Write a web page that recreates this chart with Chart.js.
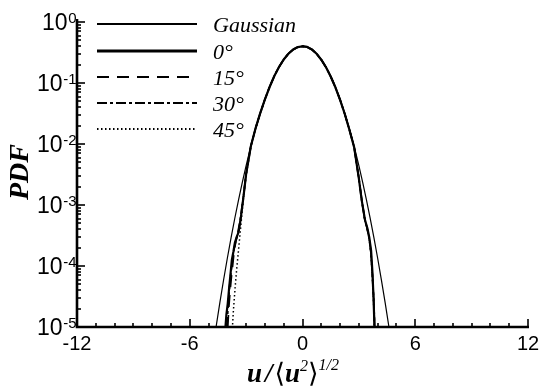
<!DOCTYPE html>
<html>
<head>
<meta charset="utf-8">
<script src="https://cdn.jsdelivr.net/npm/chart.js@4.4.1/dist/chart.umd.min.js"></script>
<style>
  html, body { margin: 0; padding: 0; background: #fff; }
  canvas { display: block; }
</style>
</head>
<body>
<canvas id="pdfChart" width="542" height="391"></canvas>
<script>
// Gaussian reference curve
var gaussX = [-4.6, -4.4, -4.2, -4.0, -3.8, -3.6, -3.4, -3.2, -3.0, -2.8, -2.6, -2.4, -2.2, -2.0, -1.8, -1.6, -1.4, -1.2, -1.0, -0.8, -0.6, -0.4, -0.2, 0,
              0.2, 0.4, 0.6, 0.8, 1.0, 1.2, 1.4, 1.6, 1.8, 2.0, 2.2, 2.4, 2.6, 2.8, 3.0, 3.2, 3.4, 3.6, 3.8, 4.0, 4.2, 4.4, 4.6];
var gaussPdf = [1.0e-5, 2.48e-5, 5.89e-5, 1.34e-4, 2.92e-4, 6.12e-4, 1.23e-3, 2.38e-3, 4.43e-3, 7.92e-3, 1.36e-2, 2.24e-2, 3.55e-2, 5.40e-2, 7.90e-2, 0.111, 0.150, 0.194, 0.242, 0.290, 0.333, 0.368, 0.391, 0.399,
                0.391, 0.368, 0.333, 0.290, 0.242, 0.194, 0.150, 0.111, 7.90e-2, 5.40e-2, 3.55e-2, 2.24e-2, 1.36e-2, 7.92e-3, 4.43e-3, 2.38e-3, 1.23e-3, 6.12e-4, 2.92e-4, 1.34e-4, 5.89e-5, 2.48e-5, 1.0e-5];

// measured PDFs, one per angle
var x0 = [-4.1, -4.05, -3.98, -3.9, -3.82, -3.76, -3.68, -3.6, -3.5, -3.4, -3.3, -3.15, -3.0, -2.75, -2.5, -2.25,
          -2.0, -1.75, -1.5, -1.25, -1.0, -0.75, -0.5, -0.25, 0, 0.25, 0.5, 0.75, 1.0, 1.25, 1.5, 1.75, 2.0,
          2.25, 2.5, 2.75, 3.0, 3.15, 3.33, 3.45, 3.55, 3.65, 3.72, 3.78, 3.83];
var pdf0 = [1.0e-5, 1.6e-5, 2.4e-5, 4.5e-5, 8e-5, 1.26e-4, 1.7e-4, 2.4e-4, 3.0e-4, 3.6e-4, 5.6e-4, 1.3e-3, 3.2e-3, 9.2e-3, 1.8e-2, 3.2e-2,
            5.4e-2, 8.6e-2, 0.130, 0.183, 0.243, 0.302, 0.354, 0.388, 0.401, 0.390, 0.355, 0.302, 0.241, 0.181, 0.128, 0.085, 0.053,
            0.031, 0.017, 0.0088, 0.0027, 0.0012, 5.6e-4, 4.2e-4, 3.0e-4, 1.8e-4, 8e-5, 3e-5, 1e-5];

var x15 = [-3.97, -3.92, -3.85, -3.78, -3.7, -3.62, -3.52, -3.42, -3.3, -3.15, -3.0, -2.75, -2.5, -2.25,
           -2.0, -1.75, -1.5, -1.25, -1.0, -0.75, -0.5, -0.25, 0, 0.25, 0.5, 0.75, 1.0, 1.25, 1.5, 1.75, 2.0,
           2.25, 2.5, 2.75, 3.0, 3.15, 3.3, 3.45, 3.55, 3.65, 3.74, 3.8, 3.84];
var pdf15 = [1.0e-5, 2.0e-5, 3.8e-5, 6.5e-5, 1.1e-4, 1.9e-4, 2.7e-4, 3.5e-4, 5.8e-4, 1.35e-3, 3.3e-3, 9.3e-3, 1.8e-2, 3.2e-2,
             0.054, 0.087, 0.131, 0.184, 0.244, 0.303, 0.353, 0.387, 0.399, 0.389, 0.354, 0.301, 0.240, 0.180, 0.127, 0.085, 0.053,
             0.031, 0.017, 0.0089, 0.0028, 0.0013, 6.0e-4, 4.0e-4, 2.8e-4, 1.5e-4, 6e-5, 2.5e-5, 1e-5];

var x30 = [-4.02, -3.96, -3.88, -3.8, -3.72, -3.64, -3.55, -3.45, -3.32, -3.15, -3.0, -2.75, -2.5, -2.25,
           -2.0, -1.75, -1.5, -1.25, -1.0, -0.75, -0.5, -0.25, 0, 0.25, 0.5, 0.75, 1.0, 1.25, 1.5, 1.75, 2.0,
           2.25, 2.5, 2.75, 3.0, 3.15, 3.32, 3.44, 3.54, 3.64, 3.72, 3.79, 3.84];
var pdf30 = [1.0e-5, 2.2e-5, 4.6e-5, 8e-5, 1.3e-4, 1.9e-4, 2.6e-4, 3.4e-4, 5.5e-4, 1.3e-3, 3.2e-3, 9.1e-3, 1.8e-2, 3.2e-2,
             0.054, 0.086, 0.130, 0.183, 0.243, 0.302, 0.353, 0.388, 0.400, 0.389, 0.354, 0.301, 0.241, 0.181, 0.128, 0.085, 0.053,
             0.031, 0.017, 0.0088, 0.0027, 0.0012, 5.8e-4, 4.1e-4, 2.9e-4, 1.7e-4, 7e-5, 2.8e-5, 1e-5];

var x45 = [-3.72, -3.68, -3.62, -3.56, -3.5, -3.44, -3.38, -3.3, -3.2, -3.1, -3.0, -2.75, -2.5, -2.25,
           -2.0, -1.75, -1.5, -1.25, -1.0, -0.75, -0.5, -0.25, 0, 0.25, 0.5, 0.75, 1.0, 1.25, 1.5, 1.75, 2.0,
           2.25, 2.5, 2.75, 3.0, 3.15, 3.3, 3.44, 3.55, 3.64, 3.72, 3.78, 3.82];
var pdf45 = [1.1e-5, 1.8e-5, 3.2e-5, 5.5e-5, 9e-5, 1.4e-4, 2.2e-4, 4.0e-4, 8.5e-4, 1.7e-3, 3.1e-3, 9.0e-3, 1.8e-2, 3.1e-2,
             0.054, 0.086, 0.130, 0.183, 0.242, 0.301, 0.353, 0.387, 0.399, 0.389, 0.354, 0.301, 0.241, 0.181, 0.128, 0.085, 0.053,
             0.031, 0.017, 0.0088, 0.0027, 0.0012, 6.0e-4, 4.2e-4, 2.9e-4, 1.6e-4, 6.5e-5, 2.6e-5, 1e-5];

var seriesLabels = ["Gaussian", "0°", "15°", "30°", "45°"];
var xTicks = [-12, -6, 0, 6, 12];
var yDecades = [-5, -4, -3, -2, -1, 0];

function toPoints(xs, ys) {
    return xs.map(function (x, i) { return { x: x, y: ys[i] }; });
}

function lineSet(label, xs, ys, width, dash) {
    return {
        label: label,
        data: toPoints(xs, ys),
        borderColor: "#000",
        borderWidth: width,
        borderDash: dash,
        pointRadius: 0,
        tension: 0,
        fill: false,
        borderJoinStyle: "round"
    };
}

// legend line widths (a little heavier than the curves)
var legendWidths = [1.8, 2.8, 1.8, 2.2, 1.8];

// draws axes with inward ticks, tick labels with superscripts, titles and legend
var axesPlugin = {
    id: "axesPlugin",
    afterDraw: function (chart) {
        var ctx = chart.ctx;
        var area = chart.chartArea;
        var xs = chart.scales.x;
        var ys = chart.scales.y;
        ctx.save();
        ctx.strokeStyle = "#000";
        ctx.fillStyle = "#000";

        // x ticks: major every 6, minor every 1
        ctx.lineWidth = 1.6;
        for (var v = -12; v <= 12; v++) {
            var px = Math.round(xs.getPixelForValue(v));
            var len = (v % 6 === 0) ? 8 : 4;
            ctx.beginPath();
            ctx.moveTo(px, area.bottom);
            ctx.lineTo(px, area.bottom - len);
            ctx.stroke();
        }
        // y ticks: decades and 2..9 minors
        yDecades.forEach(function (d) {
            for (var m = 1; m <= 9; m++) {
                if (d === 0 && m > 1) break;
                var py = Math.round(ys.getPixelForValue(m * Math.pow(10, d)));
                var l = m === 1 ? 8 : 4;
                ctx.beginPath();
                ctx.moveTo(area.left, py);
                ctx.lineTo(area.left + l, py);
                ctx.stroke();
            }
        });

        // axis lines
        ctx.lineWidth = 2.6;
        ctx.beginPath();
        ctx.moveTo(area.left, area.top - 3);
        ctx.lineTo(area.left, area.bottom);
        ctx.lineTo(area.right + 1, area.bottom);
        ctx.stroke();

        // x tick labels
        ctx.font = "20px 'Liberation Sans', Arial, sans-serif";
        ctx.textAlign = "center";
        ctx.textBaseline = "alphabetic";
        xTicks.forEach(function (t) {
            ctx.fillText(String(t), xs.getPixelForValue(t), area.bottom + 23);
        });

        // y tick labels 10^n
        ctx.textAlign = "left";
        var baseFont = "23px 'Liberation Sans', Arial, sans-serif";
        var supFont = "15px 'Liberation Sans', Arial, sans-serif";
        yDecades.forEach(function (d) {
            var py = ys.getPixelForValue(Math.pow(10, d));
            var base = "10", sup = d === 0 ? "0" : "-" + (-d);
            ctx.font = baseFont;
            var wb = ctx.measureText(base).width;
            ctx.font = supFont;
            var ws = ctx.measureText(sup).width;
            var x0 = area.left - 1 - ws - wb;
            ctx.font = baseFont;
            ctx.fillText(base, x0, py + 8);
            ctx.font = supFont;
            ctx.fillText(sup, x0 + wb + 0.5, py + 1);
        });

        // y title
        ctx.save();
        ctx.translate(28, 172);
        ctx.rotate(-Math.PI / 2);
        ctx.font = "italic bold 28px 'Liberation Serif', 'Times New Roman', serif";
        ctx.textAlign = "center";
        ctx.fillText("PDF", 0, 0);
        ctx.restore();

        // x title: u/<u^2>^(1/2)
        var big = "italic bold 27px 'Liberation Serif', serif";
        var brk = "27px 'DejaVu Serif', 'Liberation Serif', serif";
        var small = "italic 16px 'Liberation Serif', serif";
        var parts = [
            { t: "u", f: big, dy: 0, gap: 3 },
            { t: "/", f: big, dy: 0, gap: 2 },
            { t: "\u27E8", f: brk, dy: 0, gap: 0 },
            { t: "u", f: big, dy: 0, gap: 0 },
            { t: "2", f: small, dy: -11, gap: 0 },
            { t: "\u27E9", f: brk, dy: 0, gap: 0 },
            { t: "1/2", f: small, dy: -12, gap: 0 }
        ];
        var total = 0;
        parts.forEach(function (p) {
            ctx.font = p.f;
            p.w = ctx.measureText(p.t).width;
            total += p.w + p.gap;
        });
        var cx = 293 - total / 2;
        ctx.textAlign = "left";
        parts.forEach(function (p) {
            ctx.font = p.f;
            ctx.fillText(p.t, cx, 382 + p.dy);
            cx += p.w + p.gap;
        });

        // legend
        var rows = [24, 51, 77, 103, 129];
        chart.data.datasets.forEach(function (ds, i) {
            var y = rows[i];
            ctx.lineWidth = legendWidths[i];
            ctx.setLineDash(ds.borderDash || []);
            ctx.beginPath();
            ctx.moveTo(97, y);
            ctx.lineTo(197, y);
            ctx.stroke();
            ctx.setLineDash([]);
            ctx.font = "italic 22px 'Liberation Serif', 'Times New Roman', serif";
            ctx.fillText(seriesLabels[i], 213, y + 7.5);
        });

        ctx.restore();
    }
};

new Chart(document.getElementById("pdfChart"), {
    type: "line",
    data: {
        datasets: [
            lineSet(seriesLabels[0], gaussX, gaussPdf, 1.2, []),
            lineSet(seriesLabels[1], x0, pdf0, 2.2, []),
            lineSet(seriesLabels[2], x15, pdf15, 1.5, [12, 8]),
            lineSet(seriesLabels[3], x30, pdf30, 1.8, [10, 3, 3, 3]),
            lineSet(seriesLabels[4], x45, pdf45, 1.5, [1.5, 2.5])
        ]
    },
    options: {
        responsive: false,
        animation: false,
        layout: { padding: { left: 77, right: 14, top: 22, bottom: 64 } },
        plugins: {
            legend: { display: false },
            tooltip: { enabled: false }
        },
        scales: {
            x: { type: "linear", min: -12, max: 12, display: false },
            y: { type: "logarithmic", min: 1e-5, max: 1, display: false }
        }
    },
    plugins: [axesPlugin]
});
</script>
</body>
</html>
